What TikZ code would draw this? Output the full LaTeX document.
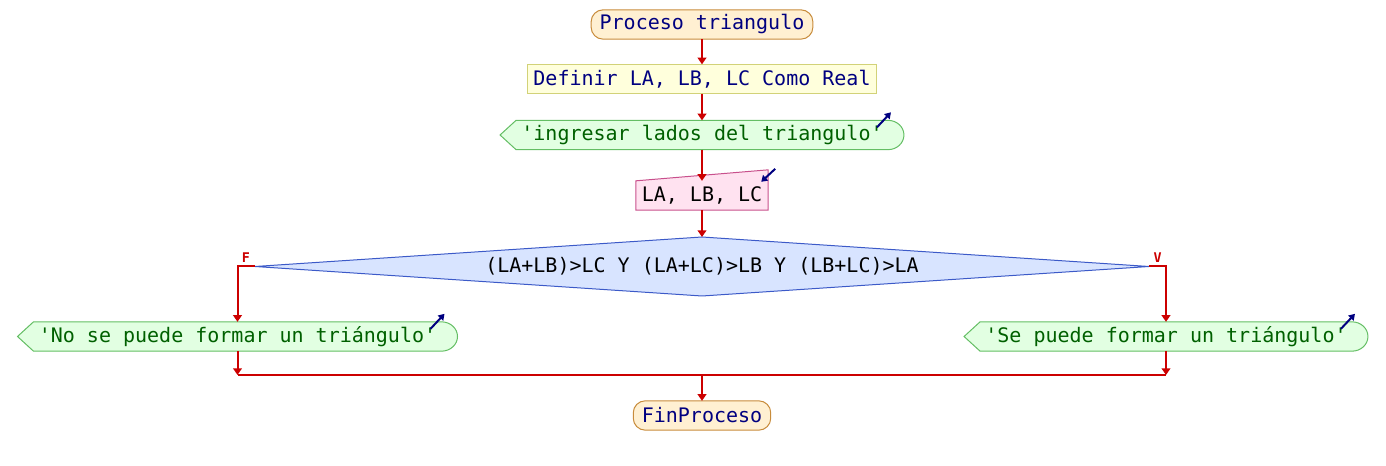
\documentclass[tikz,border=0pt]{standalone}
\usepackage{fontspec}
\setmonofont{DejaVu Sans Mono}
\usepackage{tikz}
\usetikzlibrary{arrows.meta,backgrounds}
\definecolor{rojo}{HTML}{CC0000}
\definecolor{marino}{HTML}{000080}
\definecolor{verdetxt}{HTML}{006000}
\definecolor{inifill}{HTML}{FFF0D2}
\definecolor{iniborde}{HTML}{C88C3C}
\definecolor{deffill}{HTML}{FFFFDC}
\definecolor{defborde}{HTML}{D2D278}
\definecolor{salfill}{HTML}{E2FFE2}
\definecolor{salborde}{HTML}{64BE64}
\definecolor{entfill}{HTML}{FFE2F0}
\definecolor{entborde}{HTML}{C8508C}
\definecolor{condfill}{HTML}{D8E4FF}
\definecolor{condborde}{HTML}{3C5AC8}

% outline + icon of an output node (drawn behind its text)
\newcommand{\salidacontorno}[1]{%
  \begin{scope}[on background layer]
    \draw[salidaborde] (#1.north west) -- (#1.north east)
      arc[start angle=90,end angle=-90,x radius=12pt,y radius=11pt]
      -- (#1.south west) -- ([xshift=-12pt]#1.west) -- cycle;
  \end{scope}
  \draw[icono] ([shift={(-11,7)}]#1.north east) -- ([shift={(3,-8)}]#1.north east);
}

\begin{document}
\begin{tikzpicture}[
    x=0.75pt,y=-0.75pt,
    txt/.style={font=\ttfamily\fontsize{15}{18}\selectfont},
    box/.style={txt,rectangle,minimum height=22pt,inner ysep=2pt,outer sep=0pt},
    inicio/.style={box,fill=inifill,draw=iniborde,line width=0.75pt,rounded corners=9pt,inner xsep=6.4pt,text=marino},
    defin/.style={box,fill=deffill,draw=defborde,line width=0.75pt,inner xsep=4.5pt,text=marino},
    salida/.style={box,inner xsep=4pt,text=verdetxt},
    salidaborde/.style={fill=salfill,draw=salborde,line width=0.75pt},
    entrada/.style={box,inner xsep=4.5pt,text=black},
    entradaborde/.style={fill=entfill,draw=entborde,line width=0.75pt},
    cond/.style={txt,inner sep=0pt,text=black},
    condborde/.style={fill=condfill,draw=condborde,line width=0.75pt},
    flecha/.style={-{Triangle[width=6.5pt,length=5pt]},line width=1.5pt,rojo},
    linea/.style={line width=1.5pt,rojo},
    icono/.style={-{Triangle[width=5.5pt,length=4.5pt]},line width=1.5pt,marino},
    etiq/.style={font=\ttfamily\bfseries\fontsize{10}{11}\selectfont,text=rojo,inner sep=2.5pt}
  ]
    \useasboundingbox (0,0) rectangle (1386,466);

    \node[inicio] (ini) at (702,24.5) {Proceso triangulo};
    \node[defin] (def) at (702,79) {Definir LA, LB, LC Como Real};
    \node[salida] (msg) at (702,135) {'ingresar lados del triangulo'};
    \node[entrada] (lee) at (702,195.5) {LA, LB, LC};
    \node[cond] (cnd) at (702,266.5) {(LA+LB)>LC Y (LA+LC)>LB Y (LB+LC)>LA};
    \node[salida] (no) at (237.5,336.5) {'No se puede formar un triángulo'};
    \node[salida] (si) at (1166,336.5) {'Se puede formar un triángulo'};
    \node[inicio] (fin) at (702,415.5) {FinProceso};
    \coordinate (union) at (702,375);

    % diamond corners
    \coordinate (cnd-n) at ([shift={(0,-29.5)}]cnd.center);
    \coordinate (cnd-s) at ([shift={(0,29.5)}]cnd.center);
    \coordinate (cnd-w) at ([shift={(-447,0)}]cnd.center);
    \coordinate (cnd-e) at ([shift={(447,0)}]cnd.center);

    % shapes of the i/o nodes
    \salidacontorno{msg}
    \salidacontorno{no}
    \salidacontorno{si}
    \begin{scope}[on background layer]
      \draw[entradaborde] (lee.south west) -- (lee.north west) -- ([yshift=8.25pt]lee.north east) -- (lee.south east) -- cycle;
      \draw[condborde] (cnd-n) -- (cnd-e) -- (cnd-s) -- (cnd-w) -- cycle;
    \end{scope}
    \draw[icono] ([shift={(7,-12)}]lee.north east) -- ([shift={(-7,1)}]lee.north east);

    % flow
    \draw[flecha] (ini) -- (def);
    \draw[flecha] (def) -- (msg);
    \draw[flecha] (msg) -- (lee);
    \draw[flecha] (lee) -- (cnd-n);
    \draw[flecha] (cnd-w) -| node[etiq,pos=0.5,anchor=south west] {F} (no.north);
    \draw[flecha] (cnd-e) -| node[etiq,pos=0.5,anchor=south east] {V} (si.north);
    \draw[flecha] (no.south) -- (no.south |- union);
    \draw[flecha] (si.south) -- (si.south |- union);
    \draw[linea] (no.south |- union) -- (si.south |- union);
    \draw[flecha] (union) -- (fin);
  \end{tikzpicture}
\end{document}
